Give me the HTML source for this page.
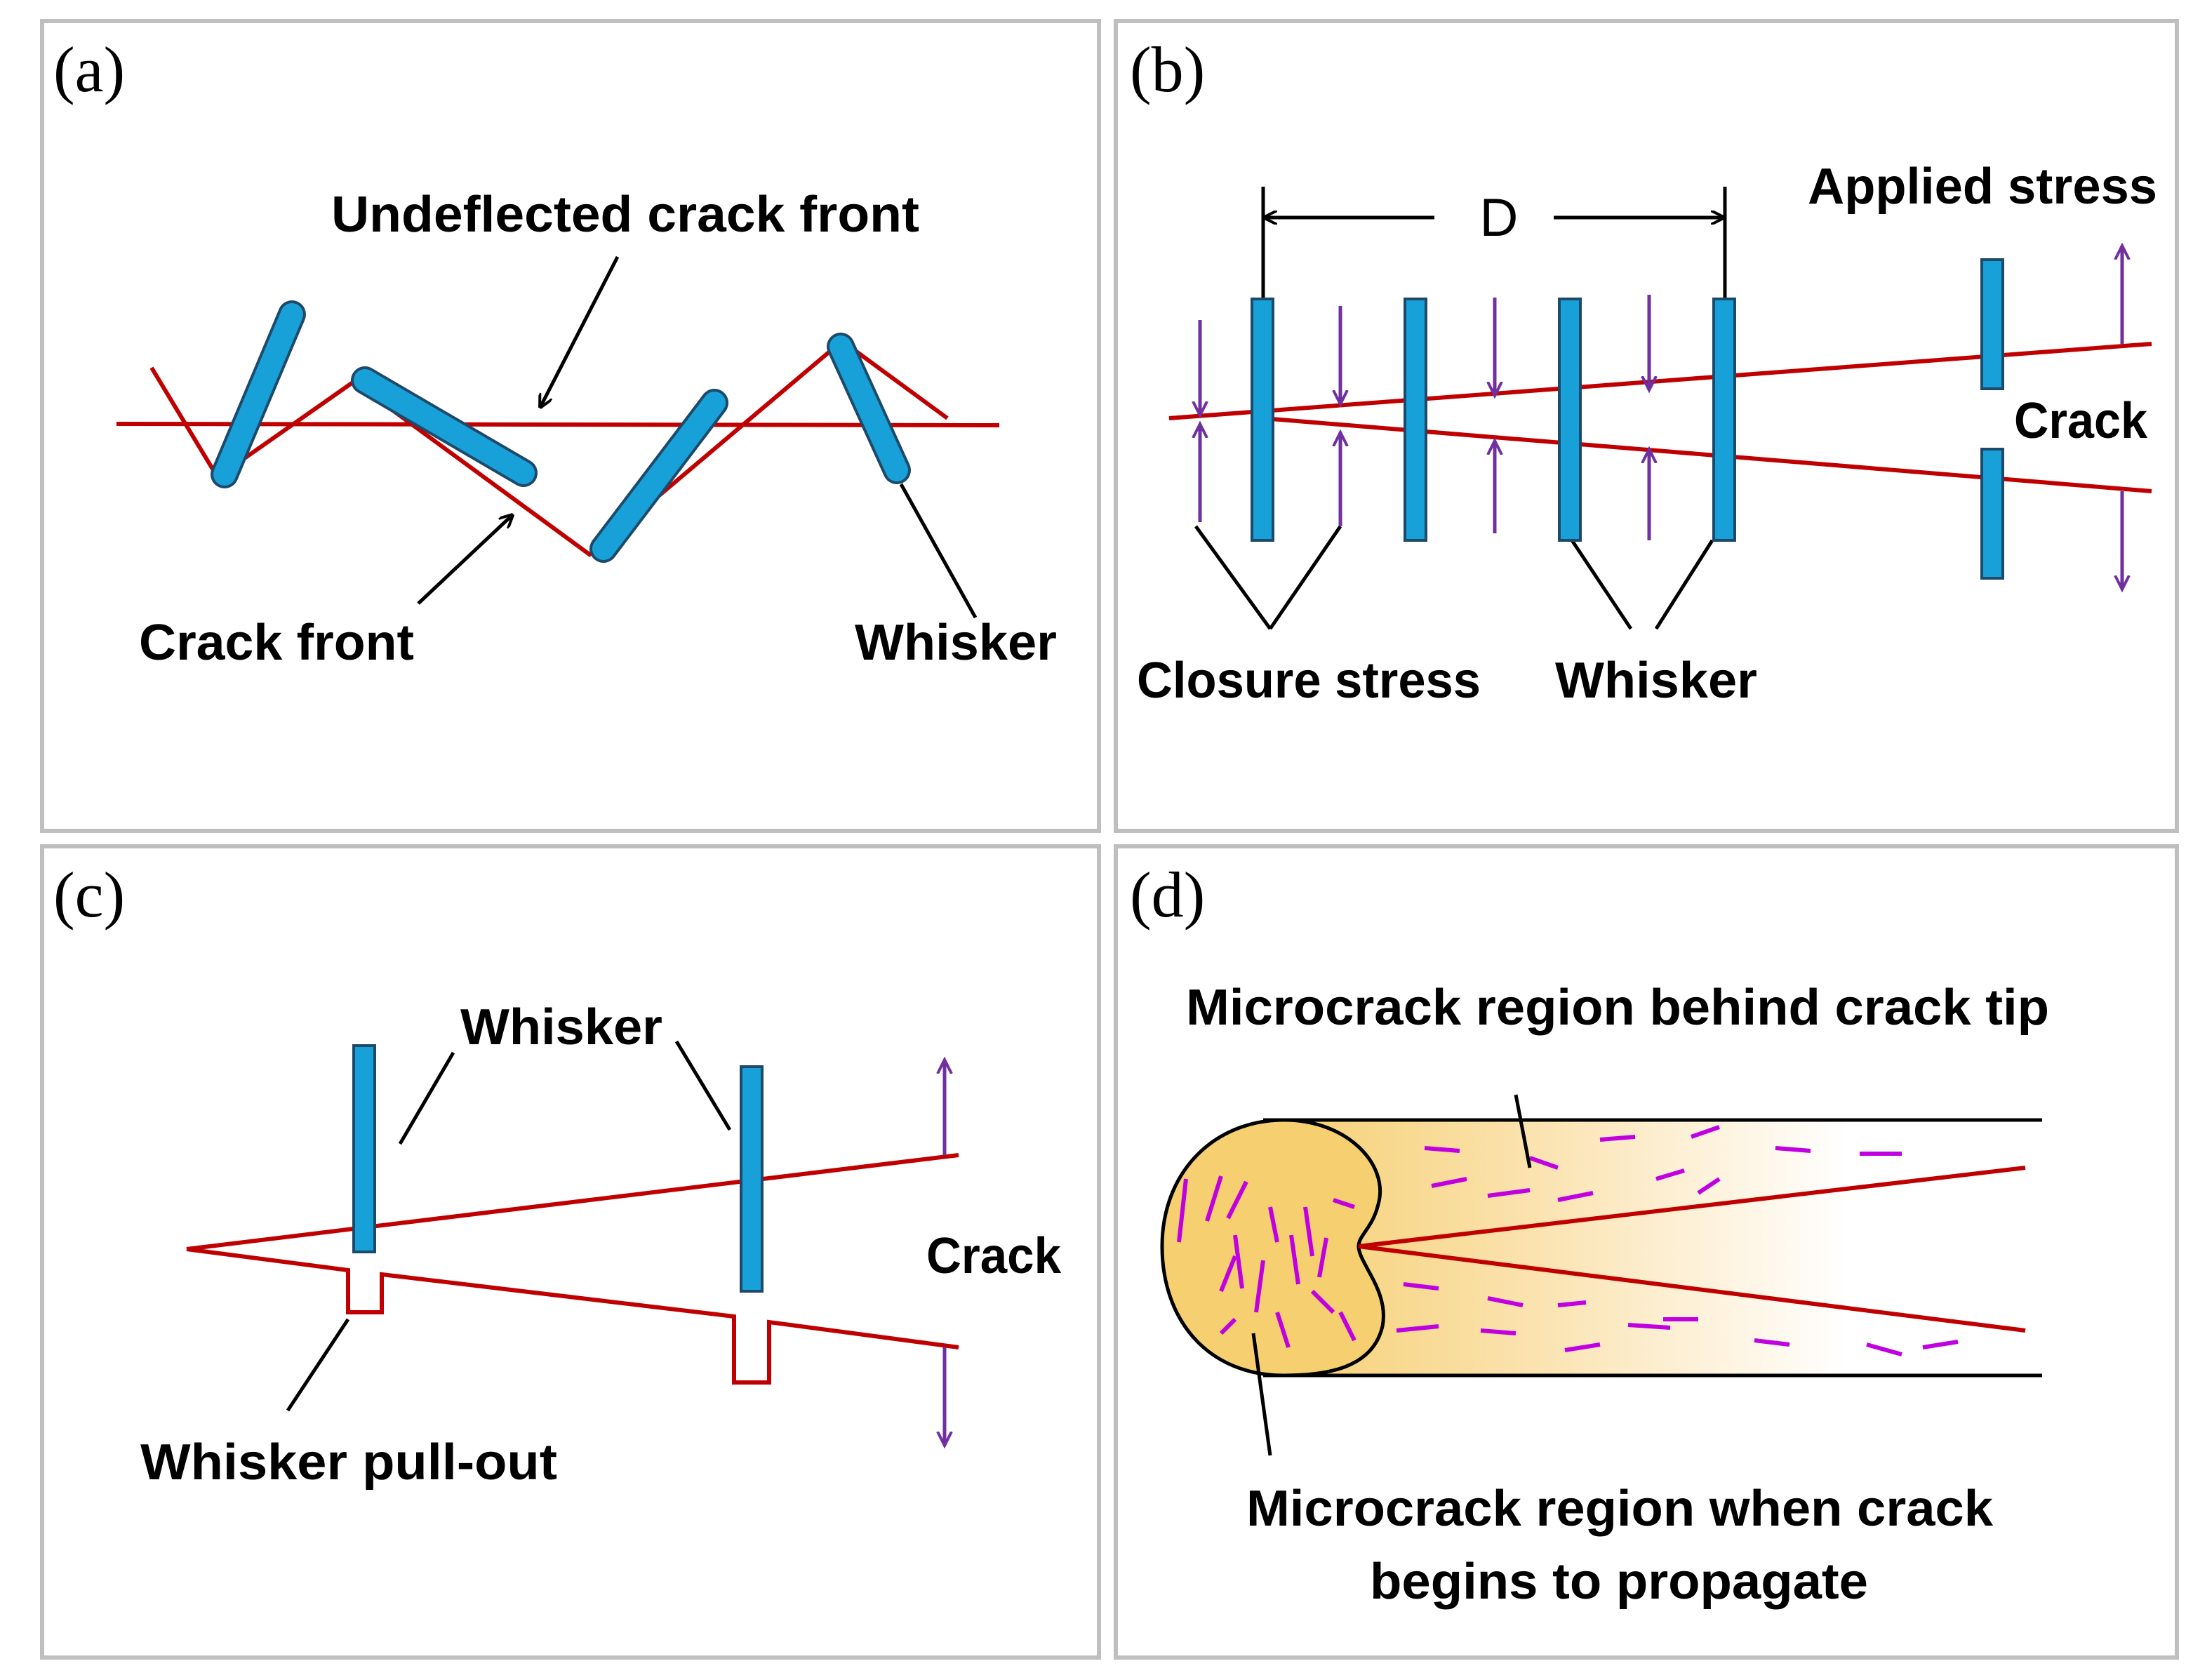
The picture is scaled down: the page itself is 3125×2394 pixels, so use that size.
<!DOCTYPE html>
<html><head><meta charset="utf-8"><style>
html,body{margin:0;padding:0;background:#fff}
svg{display:block}
.t{font-family:"Liberation Sans",sans-serif;font-weight:bold;font-size:36px;fill:#000}
.p{font-family:"Liberation Serif",serif;font-size:46px;fill:#000}
</style></head><body>
<svg width="3125" height="2394" viewBox="0 0 1562.5 1197" xmlns="http://www.w3.org/2000/svg">
<defs>
<marker id="ab" markerWidth="10" markerHeight="10" refX="9" refY="5" orient="auto" markerUnits="userSpaceOnUse" viewBox="0 0 10 10"><path d="M0,0 L10,5 L0,10" fill="none" stroke="#000" stroke-width="2"/></marker>
<marker id="ap" markerWidth="12" markerHeight="12" refX="10" refY="6" orient="auto" markerUnits="userSpaceOnUse" viewBox="0 0 12 12"><path d="M0,1 L10,6 L0,11" fill="none" stroke="#7030a0" stroke-width="2"/></marker>
<linearGradient id="g" x1="0" x2="1" y1="0" y2="0"><stop offset="0" stop-color="#f5cf70"/><stop offset="0.35" stop-color="#fbe3b0"/><stop offset="0.75" stop-color="#fff"/></linearGradient>
</defs>
<g fill="none" stroke="#bfbfbf" stroke-width="3">
<rect x="30" y="15" width="753" height="577"/><rect x="795" y="15" width="756" height="577"/>
<rect x="30" y="603" width="753" height="578"/><rect x="795" y="603" width="756" height="578"/>
</g>
<!-- (a) -->
<text class="p" x="38" y="65">(a)</text>
<line x1="83" y1="302" x2="712" y2="303" stroke="#c00000" stroke-width="3"/>
<polyline points="108,262 155,340 252,272 420,395 600,243 675,298" fill="none" stroke="#c00000" stroke-width="3"/>
<g stroke-linecap="round">
<line x1="208" y1="224" x2="160" y2="338" stroke-width="20" stroke="#1d4a6a"/><line x1="208" y1="224" x2="160" y2="338" stroke-width="16" stroke="#18a0d8"/>
<line x1="260" y1="271" x2="373" y2="337" stroke-width="20" stroke="#1d4a6a"/><line x1="260" y1="271" x2="373" y2="337" stroke-width="16" stroke="#18a0d8"/>
<line x1="509" y1="287" x2="430" y2="391" stroke-width="20" stroke="#1d4a6a"/><line x1="509" y1="287" x2="430" y2="391" stroke-width="16" stroke="#18a0d8"/>
<line x1="599" y1="247" x2="639" y2="335" stroke-width="20" stroke="#1d4a6a"/><line x1="599" y1="247" x2="639" y2="335" stroke-width="16" stroke="#18a0d8"/>
</g>
<line x1="440" y1="183" x2="385" y2="290" stroke="#000" stroke-width="2.5" marker-end="url(#ab)"/>
<line x1="298" y1="430" x2="365" y2="367" stroke="#000" stroke-width="2.5" marker-end="url(#ab)"/>
<line x1="642" y1="345" x2="695" y2="440" stroke="#000" stroke-width="2.5"/>
<text class="t" x="236" y="165" textLength="419" lengthAdjust="spacingAndGlyphs">Undeflected crack front</text>
<text class="t" x="99" y="470" textLength="196" lengthAdjust="spacingAndGlyphs">Crack front</text>
<text class="t" x="609" y="470" textLength="144" lengthAdjust="spacingAndGlyphs">Whisker</text>
<!-- (b) -->
<text class="p" x="805" y="65">(b)</text>
<g stroke="#000" stroke-width="2.5">
<line x1="900" y1="133" x2="900" y2="213"/><line x1="1229" y1="133" x2="1229" y2="213"/>
<line x1="1022" y1="155" x2="901" y2="155" marker-end="url(#ab)"/>
<line x1="1107" y1="155" x2="1228" y2="155" marker-end="url(#ab)"/>
<line x1="852" y1="375" x2="905" y2="448"/><line x1="955" y1="375" x2="905" y2="448"/>
<line x1="1120" y1="385" x2="1162" y2="448"/><line x1="1220" y1="385" x2="1180" y2="448"/>
</g>
<text x="1068" y="168" font-family="Liberation Sans,sans-serif" font-size="38" text-anchor="middle">D</text>
<line x1="833" y1="298" x2="1533" y2="245" stroke="#c00000" stroke-width="3"/>
<line x1="900" y1="298" x2="1533" y2="350" stroke="#c00000" stroke-width="3"/>
<g fill="#18a0d8" stroke="#1d4a6a" stroke-width="2">
<rect x="892" y="213" width="15" height="172"/><rect x="1001" y="213" width="15" height="172"/>
<rect x="1111" y="213" width="15" height="172"/><rect x="1221" y="213" width="15" height="172"/>
<rect x="1412" y="185" width="15" height="92"/><rect x="1412" y="320" width="15" height="92"/>
</g>
<g stroke="#7030a0" stroke-width="2.5" marker-end="url(#ap)">
<line x1="855" y1="228" x2="855" y2="296"/><line x1="855" y1="372" x2="855" y2="302"/>
<line x1="955" y1="218" x2="955" y2="288"/><line x1="955" y1="375" x2="955" y2="308"/>
<line x1="1065" y1="212" x2="1065" y2="282"/><line x1="1065" y1="380" x2="1065" y2="314"/>
<line x1="1175" y1="210" x2="1175" y2="278"/><line x1="1175" y1="385" x2="1175" y2="320"/>
<line x1="1512" y1="245" x2="1512" y2="175"/><line x1="1512" y1="350" x2="1512" y2="420"/>
</g>
<text class="t" x="1288" y="145" textLength="249" lengthAdjust="spacingAndGlyphs">Applied stress</text>
<text class="t" x="1435" y="312" textLength="95" lengthAdjust="spacingAndGlyphs">Crack</text>
<text class="t" x="810" y="497" textLength="245" lengthAdjust="spacingAndGlyphs">Closure stress</text>
<text class="t" x="1108" y="497" textLength="144" lengthAdjust="spacingAndGlyphs">Whisker</text>
<!-- (c) -->
<text class="p" x="38" y="653">(c)</text>
<line x1="133" y1="890" x2="683" y2="823" stroke="#c00000" stroke-width="3"/>
<polyline points="133,890 248,905 248,935 272,935 272,908 523,938 523,985 548,985 548,942 683,960" fill="none" stroke="#c00000" stroke-width="3"/>
<g fill="#18a0d8" stroke="#1d4a6a" stroke-width="2">
<rect x="252" y="745" width="15" height="147"/><rect x="528" y="760" width="15" height="160"/>
</g>
<g stroke="#7030a0" stroke-width="2.5" marker-end="url(#ap)">
<line x1="673" y1="823" x2="673" y2="755"/><line x1="673" y1="960" x2="673" y2="1030"/>
</g>
<g stroke="#000" stroke-width="2.5">
<line x1="285" y1="815" x2="323" y2="750"/><line x1="520" y1="805" x2="482" y2="742"/>
<line x1="248" y1="940" x2="205" y2="1005"/>
</g>
<text class="t" x="328" y="744" textLength="144" lengthAdjust="spacingAndGlyphs">Whisker</text>
<text class="t" x="660" y="907" textLength="96" lengthAdjust="spacingAndGlyphs">Crack</text>
<text class="t" x="100" y="1054" textLength="297" lengthAdjust="spacingAndGlyphs">Whisker pull-out</text>
<!-- (d) -->
<text class="p" x="805" y="653">(d)</text>
<rect x="900" y="798" width="555" height="182" fill="url(#g)"/>
<line x1="900" y1="798" x2="1455" y2="798" stroke="#000" stroke-width="2.5"/>
<line x1="900" y1="980" x2="1455" y2="980" stroke="#000" stroke-width="2.5"/>
<path d="M915,798 C960,798 990,830 982,858 C978,875 968,880 968,888 C968,900 990,920 985,945 C978,975 945,980 915,980 C860,980 828,940 828,888 C828,835 865,798 915,798 Z" fill="#f5cf70" stroke="#000" stroke-width="2.5"/>
<line x1="968" y1="888" x2="1443" y2="832" stroke="#c00000" stroke-width="3"/>
<line x1="968" y1="888" x2="1443" y2="948" stroke="#c00000" stroke-width="3"/>
<g stroke="#c000e0" stroke-width="3">
<line x1="1015" y1="818" x2="1040" y2="820"/><line x1="1090" y1="825" x2="1110" y2="832"/><line x1="1140" y1="812" x2="1165" y2="810"/><line x1="1205" y1="810" x2="1225" y2="803"/><line x1="1265" y1="818" x2="1290" y2="820"/><line x1="1325" y1="822" x2="1355" y2="822"/>
<line x1="1020" y1="845" x2="1045" y2="840"/><line x1="1060" y1="852" x2="1090" y2="848"/><line x1="1110" y1="855" x2="1135" y2="850"/><line x1="1180" y1="840" x2="1200" y2="834"/><line x1="1210" y1="850" x2="1225" y2="840"/>
<line x1="1000" y1="915" x2="1025" y2="918"/><line x1="1060" y1="925" x2="1085" y2="930"/><line x1="1110" y1="930" x2="1130" y2="928"/><line x1="1185" y1="940" x2="1210" y2="940"/>
<line x1="995" y1="948" x2="1025" y2="945"/><line x1="1055" y1="948" x2="1080" y2="950"/><line x1="1115" y1="962" x2="1140" y2="958"/><line x1="1160" y1="944" x2="1190" y2="946"/><line x1="1250" y1="955" x2="1275" y2="958"/><line x1="1330" y1="958" x2="1355" y2="965"/><line x1="1370" y1="960" x2="1395" y2="956"/>
<line x1="845" y1="840" x2="840" y2="885"/><line x1="870" y1="838" x2="860" y2="870"/><line x1="888" y1="842" x2="875" y2="868"/><line x1="905" y1="860" x2="910" y2="885"/><line x1="930" y1="860" x2="935" y2="895"/><line x1="950" y1="855" x2="965" y2="860"/><line x1="880" y1="880" x2="885" y2="918"/><line x1="900" y1="898" x2="895" y2="935"/><line x1="920" y1="880" x2="925" y2="915"/><line x1="945" y1="882" x2="940" y2="910"/><line x1="870" y1="950" x2="880" y2="940"/><line x1="910" y1="935" x2="918" y2="960"/><line x1="935" y1="920" x2="950" y2="935"/><line x1="955" y1="935" x2="965" y2="955"/><line x1="880" y1="895" x2="870" y2="920"/>
</g>
<g stroke="#000" stroke-width="2.5">
<line x1="1080" y1="780" x2="1090" y2="832"/><line x1="893" y1="950" x2="905" y2="1037"/>
</g>
<text class="t" x="845" y="730" textLength="615" lengthAdjust="spacingAndGlyphs">Microcrack region behind crack tip</text>
<text class="t" x="888" y="1087" textLength="532" lengthAdjust="spacingAndGlyphs">Microcrack region when crack</text>
<text class="t" x="976" y="1139" textLength="355" lengthAdjust="spacingAndGlyphs">begins to propagate</text>
</svg>
</body></html>
